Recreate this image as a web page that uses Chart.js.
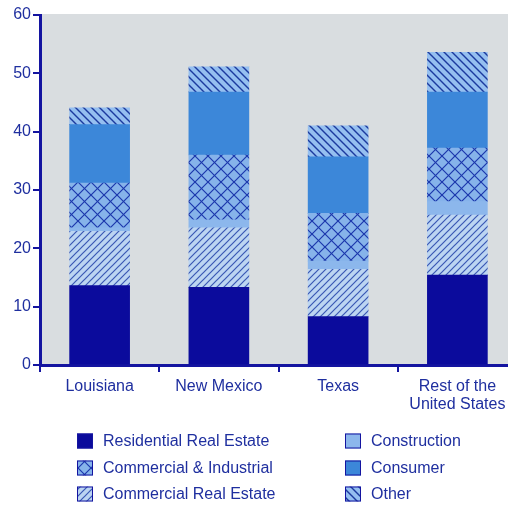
<!DOCTYPE html>
<html>
<head>
<meta charset="utf-8">
<script src="https://cdn.jsdelivr.net/npm/chart.js@4"></script>
<style>
html,body{margin:0;padding:0;background:#fff;overflow:hidden;width:508px;height:505px;}
canvas{display:block;}
</style>
</head>
<body>
<canvas id="c" width="517" height="505" style="width:517px;height:505px"></canvas>
<script>
// ---- data ----
const categories = ['Louisiana', 'New Mexico', 'Texas', ['Rest of the', 'United States']];
const seriesNames = ['Residential Real Estate', 'Commercial Real Estate', 'Construction', 'Commercial & Industrial', 'Consumer', 'Other'];
const residential = [13.6, 13.3, 8.3, 15.4];
const commercialRealEstate = [9.3, 10.2, 8.1, 10.3];
const construction = [0.6, 1.4, 1.4, 2.3];
const commercialIndustrial = [7.7, 11.1, 8.2, 9.2];
const consumer = [10.0, 10.8, 9.7, 9.6];
const other = [2.9, 4.3, 5.3, 6.8];
const yTicks = [0, 10, 20, 30, 40, 50, 60];

// ---- styles ----
const FONT = '"Liberation Sans", Arial, Helvetica, sans-serif';
const AXIS = '#1414a0';
const TEXT = '#1f2f9f';

function tile(w, h, bg, draw) {
  const c = document.createElement('canvas');
  c.width = w; c.height = h;
  const g = c.getContext('2d');
  g.fillStyle = bg; g.fillRect(0, 0, w, h);
  draw(g, w, h);
  return document.getElementById('c').getContext('2d').createPattern(c, 'repeat');
}
function fwd(g, p, color, lw) { // "/" lines
  g.strokeStyle = color; g.lineWidth = lw;
  g.beginPath();
  g.moveTo(-1, p + 1); g.lineTo(p + 1, -1);
  g.moveTo(-2, 2); g.lineTo(2, -2);
  g.moveTo(p - 2, p + 2); g.lineTo(p + 2, p - 2);
  g.stroke();
}
function back(g, p, color, lw) { // "\" lines
  g.strokeStyle = color; g.lineWidth = lw;
  g.beginPath();
  g.moveTo(-1, -1); g.lineTo(p + 1, p + 1);
  g.moveTo(p - 2, -2); g.lineTo(p + 2, 2);
  g.moveTo(-2, p - 2); g.lineTo(2, p + 2);
  g.stroke();
}
const creFill = tile(7, 7, '#bcd5f2', (g, w) => fwd(g, w, '#3a58b4', 1.2));
const ciFill = tile(13, 13, '#86b3ea', (g, w) => { fwd(g, w, '#1c38ac', 1.2); back(g, w, '#1c38ac', 1.2); });
const otherFill = tile(8, 8, '#95bff0', (g, w) => back(g, w, '#1c3a9e', 1.4));

const seriesFills = ['#0b0b9c', creFill, '#8cb7ec', ciFill, '#3c87d9', otherFill];
const seriesData = [residential, commercialRealEstate, construction, commercialIndustrial, consumer, other];

const bgPlugin = {
  id: 'bg',
  beforeDraw(chart) {
    const { ctx, chartArea: a } = chart;
    ctx.save();
    ctx.fillStyle = '#fff';
    ctx.fillRect(0, 0, chart.width, chart.height);
    ctx.fillStyle = '#d9dde0';
    ctx.fillRect(a.left + 2, a.top - 1, a.right - a.left, a.bottom - a.top);
    ctx.restore();
  }
};

const legendOrder = [0, 3, 1, 2, 4, 5];
const legendPlugin = {
  id: 'customLegend',
  afterDraw(chart) {
    const ctx = chart.ctx;
    const cols = [77, 345];
    const rows = [441, 468, 494];
    ctx.save();
    ctx.font = '16px ' + FONT;
    ctx.textBaseline = 'middle';
    ctx.textAlign = 'left';
    legendOrder.forEach((di, k) => {
      const ds = chart.data.datasets[di];
      const x = cols[Math.floor(k / 3)];
      const y = rows[k % 3];
      ctx.fillStyle = ds.backgroundColor;
      ctx.fillRect(x, y - 7.5, 16, 15);
      ctx.strokeStyle = AXIS;
      ctx.lineWidth = 1;
      ctx.strokeRect(x + 0.5, y - 7, 15, 14);
      ctx.fillStyle = TEXT;
      ctx.fillText(ds.label, x + 26, y + 1);
    });
    ctx.restore();
  }
};

new Chart(document.getElementById('c'), {
  type: 'bar',
  data: {
    labels: categories,
    datasets: seriesNames.map((n, i) => ({
      label: n,
      data: seriesData[i],
      backgroundColor: seriesFills[i],
      borderWidth: 0,
      barThickness: 60
    }))
  },
  options: {
    responsive: false,
    animation: false,
    events: [],
    layout: { padding: { top: 15, right: 0, left: 0, bottom: 0 } },
    plugins: { legend: { display: false }, tooltip: { enabled: false } },
    scales: {
      x: {
        stacked: true,
        grid: { display: true, drawOnChartArea: false, drawTicks: true, tickLength: 7, color: AXIS, lineWidth: 2, offset: true },
        border: { display: true, color: AXIS, width: 3 },
        ticks: { color: TEXT, font: { size: 16, family: FONT, lineHeight: 1.15 }, padding: 5, maxRotation: 0, autoSkip: false },
        afterFit(s) { s.height = 140; }
      },
      y: {
        stacked: true,
        min: 0,
        max: 60,
        afterBuildTicks(s) { s.ticks = yTicks.map(v => ({ value: v })); },
        ticks: { color: TEXT, font: { size: 16, family: FONT }, padding: 2 },
        grid: { display: true, drawOnChartArea: false, drawTicks: true, tickLength: 7, color: AXIS, lineWidth: 2 },
        border: { display: true, color: AXIS, width: 3 },
        afterFit(s) { s.width = 40; }
      }
    }
  },
  plugins: [bgPlugin, legendPlugin]
});
</script>
</body>
</html>
